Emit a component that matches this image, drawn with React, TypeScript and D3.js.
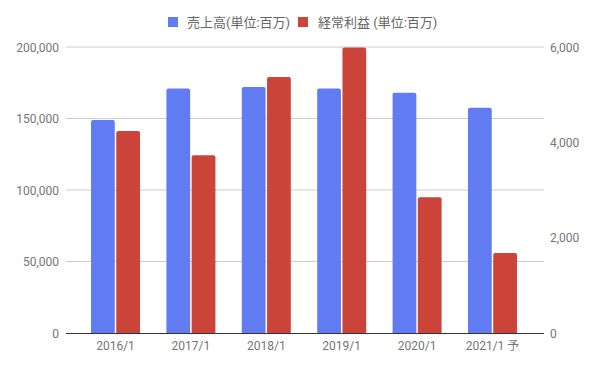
import * as d3 from 'd3';

const categories = ['2016/1', '2017/1', '2018/1', '2019/1', '2020/1', '2021/1 予'];
const sales = [149000, 171000, 172000, 171000, 168000, 157500];
const profit = [4240, 3730, 5370, 5990, 2850, 1680];
const leftTicks = [0, 50000, 100000, 150000, 200000];
const rightTicks = [0, 2000, 4000, 6000];
const seriesNames = ['売上高(単位:百万)', '経常利益 (単位:百万)'];

const BLUE = '#617cf2';
const RED = '#cc4439';
const FONT = 'Roboto, "Noto Sans CJK JP", sans-serif';

export default function App() {
  const width = 596;
  const height = 369;
  const top = 47;
  const bottom = 333;
  const gridLeft = 66;
  const gridRight = 544;

  const x = d3.scaleBand<string>().domain(categories).range([91, 517]).paddingInner(0.35).paddingOuter(0);
  const half = (x.bandwidth() - 1.5) / 2;
  const yL = d3.scaleLinear().domain([0, 200000]).range([bottom, top]);
  const yR = d3.scaleLinear().domain([0, 6000]).range([bottom, top]);
  const fmt = d3.format(',');

  const bar = (bx: number, by: number, w: number, h: number, r = 2) =>
    `M${bx},${by + h}V${by + r}Q${bx},${by} ${bx + r},${by}H${bx + w - r}Q${bx + w},${by} ${bx + w},${by + r}V${by + h}Z`;

  return (
    <svg width={width} height={height} style={{ position: 'absolute', left: 0, top: 0 }} fontFamily={FONT}>
      <rect width={width} height={height} fill="#fff" />
      {/* legend */}
      <g fontSize={13} fill="#666">
        <rect x={168} y={17} width={10} height={10} fill={BLUE} />
        <text x={187} y={26.5}>{seriesNames[0]}</text>
        <rect x={298} y={17} width={10} height={10} fill={RED} />
        <text x={318} y={26.5}>{seriesNames[1]}</text>
      </g>
      {/* gridlines + left axis */}
      {leftTicks.map(t => (
        <g key={t}>
          {t !== 0 && <line x1={gridLeft} x2={gridRight} y1={yL(t)} y2={yL(t)} stroke="#cccccc" />}
          <text x={59} y={yL(t) + 4.5} textAnchor="end" fontSize={12} fill="#757575">{fmt(t)}</text>
        </g>
      ))}
      {rightTicks.map(t => (
        <text key={t} x={550} y={yR(t) + 4.5} fontSize={12} fill="#757575">{fmt(t)}</text>
      ))}
      {/* bars */}
      {categories.map((c, i) => {
        const x0 = x(c)!;
        return (
          <g key={c}>
            <path d={bar(x0, yL(sales[i]), half, bottom - yL(sales[i]))} fill={BLUE} />
            <path d={bar(x0 + half + 1.5, yR(profit[i]), half, bottom - yR(profit[i]))} fill={RED} />
          </g>
        );
      })}
      <line x1={gridLeft} x2={gridRight} y1={bottom + 0.5} y2={bottom + 0.5} stroke="#333" />
      {/* x labels */}
      {categories.map(c => (
        <text key={c} x={x(c)! + x.bandwidth() / 2} y={350} textAnchor="middle" fontSize={12} fill="#757575">{c}</text>
      ))}
    </svg>
  );
}
